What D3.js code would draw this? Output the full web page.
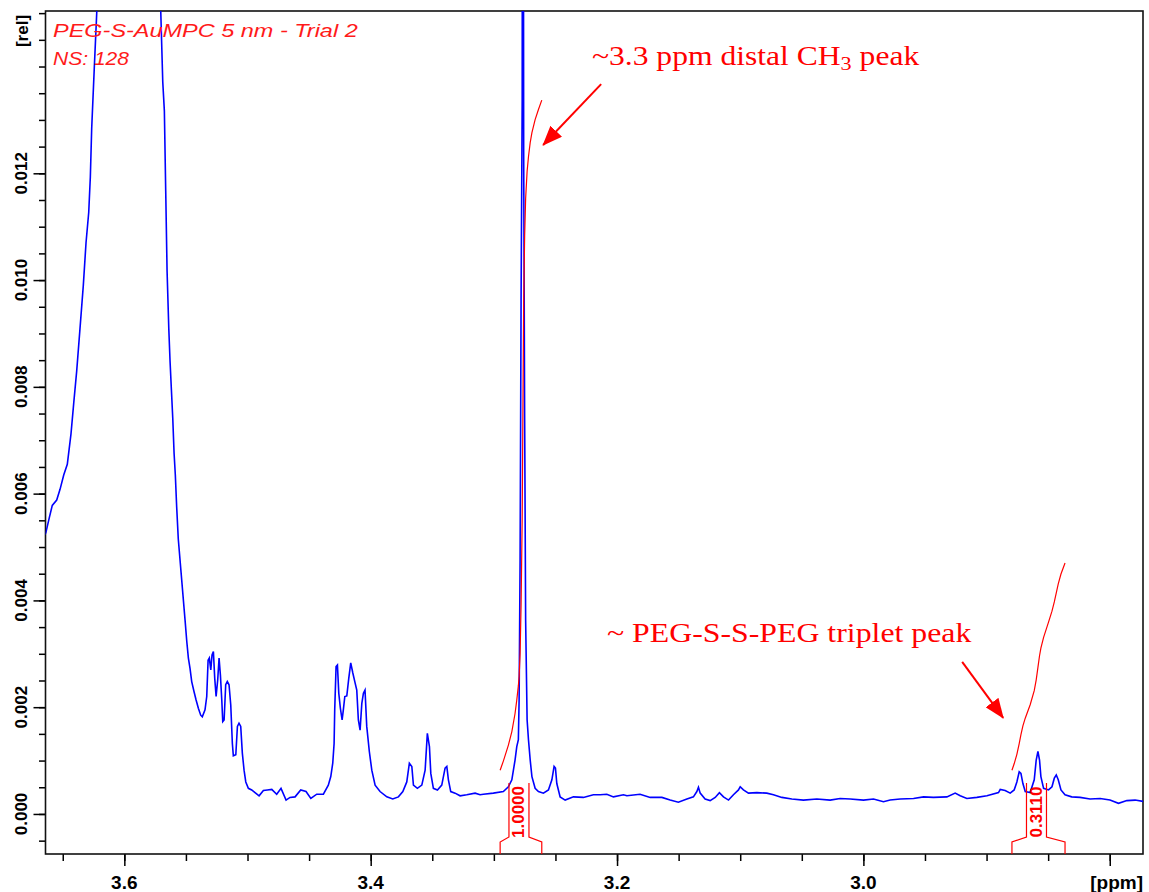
<!DOCTYPE html>
<html>
<head>
<meta charset="utf-8">
<script src="https://cdn.jsdelivr.net/npm/d3@7/dist/d3.min.js"></script>
<style>
body { margin: 0; background: #fff; }
svg { display: block; }
</style>
</head>
<body>
<script>

// 1H spectrum (chemical shift in ppm, intensity in rel)
var ppm = [
  3.6644, 3.6636, 3.6609, 3.6585, 3.6549, 3.6522, 3.6492, 3.6463, 3.6433, 3.6411,
  3.6387, 3.6360, 3.6333, 3.6311, 3.6289, 3.6276, 3.6265, 3.6244, 3.6224, 3.6150,
  3.6050, 3.5950, 3.5850, 3.5770, 3.5704, 3.5688, 3.5675, 3.5664, 3.5653, 3.5639,
  3.5629, 3.5618, 3.5607, 3.5596, 3.5586, 3.5575, 3.5562, 3.5507, 3.5493, 3.5480,
  3.5467, 3.5453, 3.5434, 3.5418, 3.5399, 3.5380, 3.5367, 3.5345, 3.5331, 3.5320,
  3.5310, 3.5298, 3.5288, 3.5277, 3.5266, 3.5255, 3.5242, 3.5231, 3.5220, 3.5209,
  3.5201, 3.5190, 3.5177, 3.5164, 3.5150, 3.5136, 3.5123, 3.5115, 3.5095, 3.5082,
  3.5069, 3.5055, 3.5042, 3.5028, 3.5014, 3.4993, 3.4966, 3.4939, 3.4906, 3.4871,
  3.4839, 3.4803, 3.4763, 3.4728, 3.4687, 3.4655, 3.4614, 3.4568, 3.4525, 3.4486,
  3.4438, 3.4384, 3.4344, 3.4324, 3.4308, 3.4297, 3.4292, 3.4281, 3.4270, 3.4259,
  3.4246, 3.4232, 3.4222, 3.4210, 3.4194, 3.4178, 3.4162, 3.4145, 3.4129, 3.4113,
  3.4100, 3.4086, 3.4072, 3.4059, 3.4046, 3.4032, 3.4011, 3.3991, 3.3964, 3.3924,
  3.3869, 3.3821, 3.3775, 3.3739, 3.3707, 3.3686, 3.3666, 3.3653, 3.3621, 3.3585,
  3.3558, 3.3540, 3.3523, 3.3512, 3.3491, 3.3458, 3.3423, 3.3396, 3.3382, 3.3369,
  3.3350, 3.3315, 3.3274, 3.3220, 3.3152, 3.3112, 3.3085, 3.3004, 3.2923, 3.2882,
  3.2854, 3.2828, 3.2814, 3.2801, 3.2795, 3.2787, 3.2779, 3.2770, 3.2765, 3.2758,
  3.2750, 3.2742, 3.2730, 3.2719, 3.2705, 3.2691, 3.2665, 3.2638, 3.2598, 3.2557,
  3.2529, 3.2511, 3.2500, 3.2489, 3.2462, 3.2421, 3.2354, 3.2273, 3.2192, 3.2137,
  3.2083, 3.2029, 3.1948, 3.1920, 3.1813, 3.1731, 3.1636, 3.1569, 3.1502, 3.1433,
  3.1380, 3.1352, 3.1339, 3.1325, 3.1285, 3.1244, 3.1203, 3.1169, 3.1136, 3.1095,
  3.1055, 3.1014, 3.1000, 3.0974, 3.0933, 3.0865, 3.0784, 3.0730, 3.0662, 3.0581,
  3.0487, 3.0378, 3.0270, 3.0189, 3.0107, 2.9999, 2.9918, 2.9837, 2.9783, 2.9701,
  2.9593, 2.9512, 2.9431, 2.9322, 2.9255, 2.9214, 2.9160, 2.9079, 2.8997, 2.8903,
  2.8889, 2.8849, 2.8808, 2.8776, 2.8754, 2.8735, 2.8721, 2.8705, 2.8686, 2.8646,
  2.8613, 2.8597, 2.8583, 2.8570, 2.8559, 2.8537, 2.8497, 2.8469, 2.8450, 2.8434,
  2.8418, 2.8396, 2.8363, 2.8309, 2.8241, 2.8160, 2.8078, 2.7998, 2.7929, 2.7861,
  2.7794, 2.7712
];

var rel = [
  0.00523, 0.00528, 0.00555, 0.00578, 0.00588, 0.00608, 0.00635, 0.00655, 0.00712, 0.00769,
  0.00829, 0.00909, 0.00990, 0.01070, 0.01127, 0.01193, 0.01284, 0.01397, 0.01501, 0.02200,
  0.03200, 0.03600, 0.03200, 0.02100, 0.01501, 0.01371, 0.01317, 0.01167, 0.01017, 0.00909,
  0.00849, 0.00795, 0.00742, 0.00675, 0.00635, 0.00575, 0.00515, 0.00363, 0.00323, 0.00292,
  0.00273, 0.00248, 0.00229, 0.00214, 0.00198, 0.00185, 0.00182, 0.00195, 0.00220, 0.00288,
  0.00292, 0.00270, 0.00298, 0.00304, 0.00254, 0.00220, 0.00251, 0.00292, 0.00260, 0.00214,
  0.00173, 0.00176, 0.00242, 0.00248, 0.00242, 0.00204, 0.00132, 0.00109, 0.00111, 0.00164,
  0.00170, 0.00164, 0.00114, 0.00082, 0.00060, 0.00048, 0.00045, 0.00040, 0.00034, 0.00044,
  0.00045, 0.00046, 0.00037, 0.00048, 0.00026, 0.00031, 0.00032, 0.00045, 0.00042, 0.00029,
  0.00037, 0.00037, 0.00054, 0.00070, 0.00095, 0.00132, 0.00195, 0.00276, 0.00279, 0.00226,
  0.00198, 0.00176, 0.00195, 0.00220, 0.00221, 0.00254, 0.00283, 0.00264, 0.00248, 0.00232,
  0.00176, 0.00157, 0.00207, 0.00226, 0.00232, 0.00164, 0.00117, 0.00082, 0.00054, 0.00042,
  0.00032, 0.00028, 0.00032, 0.00042, 0.00060, 0.00095, 0.00089, 0.00054, 0.00048, 0.00054,
  0.00082, 0.00151, 0.00126, 0.00076, 0.00048, 0.00045, 0.00054, 0.00086, 0.00089, 0.00064,
  0.00042, 0.00039, 0.00034, 0.00036, 0.00039, 0.00036, 0.00037, 0.00039, 0.00042, 0.00051,
  0.00064, 0.00101, 0.00126, 0.00139, 0.00214, 0.00476, 0.00963, 0.01337, 0.03000, 0.01244,
  0.00738, 0.00363, 0.00176, 0.00139, 0.00101, 0.00070, 0.00048, 0.00042, 0.00039, 0.00045,
  0.00064, 0.00089, 0.00086, 0.00057, 0.00032, 0.00026, 0.00032, 0.00031, 0.00036, 0.00036,
  0.00037, 0.00032, 0.00036, 0.00034, 0.00037, 0.00031, 0.00031, 0.00026, 0.00022, 0.00028,
  0.00032, 0.00042, 0.00050, 0.00039, 0.00028, 0.00025, 0.00031, 0.00040, 0.00032, 0.00026,
  0.00036, 0.00045, 0.00051, 0.00045, 0.00039, 0.00040, 0.00039, 0.00036, 0.00031, 0.00028,
  0.00026, 0.00028, 0.00026, 0.00029, 0.00028, 0.00026, 0.00028, 0.00023, 0.00026, 0.00028,
  0.00029, 0.00032, 0.00031, 0.00032, 0.00039, 0.00034, 0.00029, 0.00031, 0.00034, 0.00040,
  0.00046, 0.00044, 0.00039, 0.00045, 0.00060, 0.00079, 0.00076, 0.00057, 0.00042, 0.00040,
  0.00064, 0.00101, 0.00117, 0.00101, 0.00070, 0.00048, 0.00045, 0.00051, 0.00067, 0.00073,
  0.00064, 0.00045, 0.00036, 0.00032, 0.00031, 0.00028, 0.00029, 0.00026, 0.00020, 0.00025,
  0.00026, 0.00023
];

// axis ticks
var xMajor = [3.6, 3.4, 3.2, 3.0, 2.8];
var xLabels = ['3.6', '3.4', '3.2', '3.0', '[ppm]'];
var xMinor = d3.range(0, 18).map(function(i) { return 3.65 - i * 0.05; });
var yMajor = [0, 0.002, 0.004, 0.006, 0.008, 0.010, 0.012];
var yLabels = ['0.000', '0.002', '0.004', '0.006', '0.008', '0.010', '0.012'];
var yMinor = d3.range(-1, 31).map(function(i) { return i * 0.0005; });

// integrals: region (ppm), printed value, curve levels (rel)
var intFrom = [3.2949, 2.8794];
var intTo = [3.2611, 2.8363];
var intLabels = ['1.0000', '0.3110'];
var intLow = [0.00082, 0.00082];
var intHigh = [0.01337, 0.00470];

// header text top left
var headLines = ['PEG-S-AuMPC 5 nm - Trial 2', 'NS: 128'];
var headWidth = [305, 76];

// annotations (anchored in data units)
var noteText = [['~3.3 ppm distal CH', '3', ' peak'], ['~ PEG-S-S-PEG triplet peak']];
var notePpm = [3.2204, 3.2082];
var noteRel = [0.01403, 0.00322];
var noteWidth = [328, 365];
var arrowFrom = [[3.2129, 0.01367], [2.9198, 0.00285]];
var arrowTo = [[3.2600, 0.01253], [2.8865, 0.00180]];

var width = 1149, height = 892;
var plot = {left: 45.5, right: 1143, top: 11, bottom: 854};

var x = d3.scaleLinear().domain([3.664, 2.773]).range([plot.left, plot.right]);
var y = d3.scaleLinear().domain([-0.00075, 0.01504]).range([plot.bottom, plot.top]);

var svg = d3.select('body').append('svg')
    .attr('width', width)
    .attr('height', height)
    .style('font-family', '"Liberation Sans", Arial, sans-serif');

svg.append('defs').append('clipPath')
    .attr('id', 'clip')
  .append('rect')
    .attr('x', plot.left)
    .attr('y', plot.top)
    .attr('width', plot.right - plot.left)
    .attr('height', plot.bottom - plot.top);

svg.append('defs').append('marker')
    .attr('id', 'head')
    .attr('markerUnits', 'userSpaceOnUse')
    .attr('viewBox', '0 0 20 16')
    .attr('refX', 19)
    .attr('refY', 8)
    .attr('markerWidth', 20)
    .attr('markerHeight', 16)
    .attr('orient', 'auto')
  .append('path')
    .attr('d', 'M0,0 L20,8 L0,16 Z')
    .attr('fill', '#ff0000');

// ticks
svg.append('g')
    .attr('transform', 'translate(0,' + plot.bottom + ')')
    .call(d3.axisBottom(x).tickValues(xMinor).tickSize(7).tickSizeOuter(0).tickFormat(''))
    .call(function(g) { g.select('.domain').remove(); });
svg.append('g')
    .attr('transform', 'translate(0,' + plot.bottom + ')')
    .call(d3.axisBottom(x).tickValues(xMajor).tickSize(12).tickSizeOuter(0).tickFormat(''))
    .call(function(g) { g.select('.domain').remove(); });
svg.append('g')
    .attr('transform', 'translate(' + plot.left + ',0)')
    .call(d3.axisLeft(y).tickValues(yMinor).tickSize(6.5).tickSizeOuter(0).tickFormat(''))
    .call(function(g) { g.select('.domain').remove(); });
svg.append('g')
    .attr('transform', 'translate(' + plot.left + ',0)')
    .call(d3.axisLeft(y).tickValues(yMajor).tickSize(12).tickSizeOuter(0).tickFormat(''))
    .call(function(g) { g.select('.domain').remove(); });
svg.selectAll('.tick line').attr('stroke', '#000').attr('stroke-width', 1.5);

// tick labels
svg.append('g').selectAll('text')
    .data(xMajor)
    .enter().append('text')
    .attr('x', function(d, i) { return i === xMajor.length - 1 ? plot.right : x(d); })
    .attr('y', 889)
    .attr('text-anchor', function(d, i) { return i === xMajor.length - 1 ? 'end' : 'middle'; })
    .style('font-size', '19px')
    .style('font-weight', 'bold')
    .text(function(d, i) { return xLabels[i]; });

svg.append('g').selectAll('text')
    .data(yMajor)
    .enter().append('text')
    .attr('transform', function(d) { return 'translate(27,' + y(d) + ') rotate(-90)'; })
    .attr('text-anchor', 'middle')
    .style('font-size', '17px')
    .style('font-weight', 'bold')
    .text(function(d, i) { return yLabels[i]; });

svg.append('text')
    .attr('transform', 'translate(28,31) rotate(-90)')
    .attr('text-anchor', 'middle')
    .style('font-size', '17px')
    .style('font-weight', 'bold')
    .text('[rel]');

// frame
svg.append('rect')
    .attr('x', plot.left)
    .attr('y', plot.top)
    .attr('width', plot.right - plot.left)
    .attr('height', plot.bottom - plot.top)
    .attr('fill', 'none')
    .attr('stroke', '#111')
    .attr('stroke-width', 1.6);

// spectrum
var spec = ppm.map(function(p, i) { return [p, rel[i]]; });
var line = d3.line()
    .x(function(d) { return x(d[0]); })
    .y(function(d) { return y(d[1]); });

svg.append('path')
    .datum(spec)
    .attr('clip-path', 'url(#clip)')
    .attr('fill', 'none')
    .attr('stroke', '#0000ff')
    .attr('stroke-width', 1.6)
    .attr('d', line);

// integral curves, from the running sum of the spectrum
function valueAt(p) {
  for (var i = 0; i < ppm.length - 1; i++) {
    if (ppm[i] >= p && ppm[i + 1] <= p) {
      var t = (ppm[i] - p) / (ppm[i] - ppm[i + 1]);
      return rel[i] + t * (rel[i + 1] - rel[i]);
    }
  }
  return 0;
}

intFrom.forEach(function(a, k) {
  var b = intTo[k];
  var pts = [[a, valueAt(a)]];
  ppm.forEach(function(p, i) { if (p < a && p > b) pts.push([p, rel[i]]); });
  pts.push([b, valueAt(b)]);
  var sum = [0];
  for (var i = 1; i < pts.length; i++) {
    sum.push(sum[i - 1] + (pts[i - 1][0] - pts[i][0]) * (pts[i - 1][1] + pts[i][1]) / 2);
  }
  var total = sum[sum.length - 1];
  var curve = pts.map(function(d, i) {
    return [d[0], intLow[k] + (intHigh[k] - intLow[k]) * sum[i] / total];
  });
  svg.append('path')
      .datum(curve)
      .attr('fill', 'none')
      .attr('stroke', '#ff0000')
      .attr('stroke-width', 1.2)
      .attr('d', line);

  // bracket with the integral value
  var x0 = x(a), x1 = x(b);
  var c = (x0 + x1) / 2 - 2;
  svg.append('path')
      .attr('d', 'M' + x0 + ',' + plot.bottom + ' V842 L' + (c - 10) + ',837 V783' +
                 ' M' + (c + 10) + ',783 V837 L' + x1 + ',842 V' + plot.bottom)
      .attr('fill', 'none')
      .attr('stroke', '#ff0000')
      .attr('stroke-width', 1.2);
  svg.append('text')
      .attr('transform', 'translate(' + c + ',812) rotate(-90)')
      .attr('text-anchor', 'middle')
      .attr('dominant-baseline', 'central')
      .attr('fill', '#ff0000')
      .style('font-size', '17px')
      .style('font-weight', 'bold')
      .text(intLabels[k]);
});

// header text top left, stretched like the original
headLines.forEach(function(s, k) {
  var g = svg.append('g');
  var t = g.append('text')
      .attr('fill', '#ff1a1a')
      .style('font-size', '18px')
      .style('font-style', 'italic')
      .text(s);
  var w = t.node().getBBox().width;
  g.attr('transform', 'translate(53,' + (37 + k * 28) + ') scale(' + (headWidth[k] / w) + ',1)');
});

// annotations
noteText.forEach(function(parts, k) {
  var g = svg.append('g');
  var t = g.append('text')
      .attr('fill', '#ff0000')
      .style('font-family', '"Liberation Serif", "Times New Roman", serif')
      .style('font-size', '27px');
  parts.forEach(function(s, j) {
    var span = t.append('tspan').text(s);
    if (parts.length > 1 && j === 1) span.attr('dy', 5).style('font-size', '19px');
    if (parts.length > 1 && j === 2) span.attr('dy', -5);
  });
  var w = t.node().getBBox().width;
  g.attr('transform', 'translate(' + x(notePpm[k]) + ',' + y(noteRel[k]) + ') scale(' + (noteWidth[k] / w) + ',1)');
});

arrowFrom.forEach(function(f, k) {
  svg.append('line')
      .attr('x1', x(f[0]))
      .attr('y1', y(f[1]))
      .attr('x2', x(arrowTo[k][0]))
      .attr('y2', y(arrowTo[k][1]))
      .attr('stroke', '#ff0000')
      .attr('stroke-width', 2)
      .attr('marker-end', 'url(#head)');
});

</script>
</body>
</html>
